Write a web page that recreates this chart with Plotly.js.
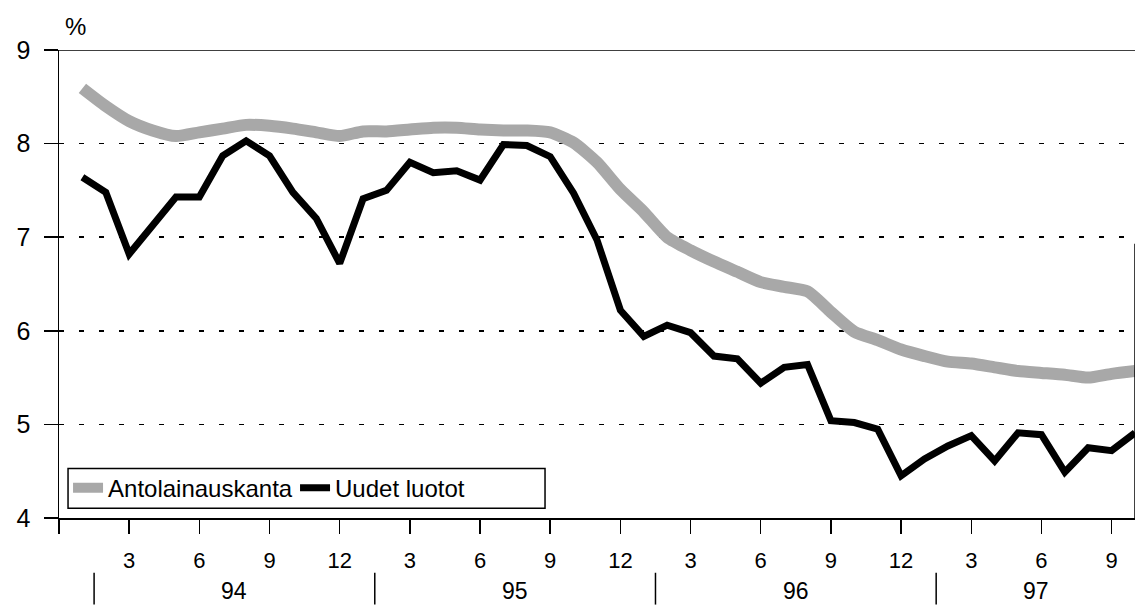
<!DOCTYPE html>
<html>
<head>
<meta charset="utf-8">
<script src="https://cdn.plot.ly/plotly-3.0.1.min.js"></script>
<style>
html, body { margin: 0; padding: 0; background: #ffffff; }
#chart { width: 1136px; height: 606px; }
</style>
</head>
<body>
<div id="chart"></div>
<script>
// ---- data ----
const startYear = 1994;
const monthCount = 46; // Jan 1994 .. Oct 1997
const monthIndex = Array.from({length: monthCount}, (_, i) => i + 1);

const antolainauskanta = [8.59, 8.40, 8.24, 8.14, 8.08, 8.12, 8.16, 8.20, 8.19, 8.16, 8.12, 8.08, 8.13, 8.13, 8.15, 8.17, 8.17, 8.15, 8.14, 8.14, 8.12, 8.01, 7.80, 7.51,
  7.27, 7.00, 6.86, 6.74, 6.63, 6.52, 6.47, 6.42, 6.20, 5.99, 5.90, 5.80, 5.73, 5.67, 5.65, 5.61, 5.57, 5.55, 5.53, 5.50, 5.54, 5.57];

const uudetLuotot = [7.64, 7.48, 6.82, 7.12, 7.43, 7.43, 7.87, 8.03, 7.87, 7.48, 7.20, 6.72, 7.41, 7.50, 7.80, 7.69, 7.71, 7.61, 7.99, 7.98, 7.86, 7.47, 6.97, 6.22,
  5.94, 6.06, 5.98, 5.73, 5.70, 5.44, 5.61, 5.64, 5.04, 5.02, 4.95, 4.45, 4.63, 4.77, 4.88, 4.61, 4.91, 4.89, 4.49, 4.75, 4.72, 4.91];

const seriesNames = ['Antolainauskanta', 'Uudet luotot'];
const monthTickLabels = ['3', '6', '9', '12'];
const yearLabels = ['94', '95', '96', '97'];
const yTicks = [4, 5, 6, 7, 8, 9];

// ---- ticks built from the labels ----
const tickVals = [0];
const tickText = [''];
for (let y = 0; y < yearLabels.length; y++) {
  monthTickLabels.forEach(m => {
    const v = y * 12 + Number(m);
    if (v <= monthCount) { tickVals.push(v); tickText.push(m); }
  });
}

const FONT = 'Liberation Sans, Arial, Helvetica, sans-serif';

const traces = [
  {
    x: monthIndex, y: antolainauskanta, name: seriesNames[0],
    type: 'scatter', mode: 'lines',
    line: {color: '#a8a8a8', width: 12, shape: 'spline', smoothing: 0.6}
  },
  {
    x: monthIndex, y: uudetLuotot, name: seriesNames[1],
    type: 'scatter', mode: 'lines',
    line: {color: '#000000', width: 7, shape: 'linear'}
  }
];

// frame lines, legend box, year separators and labels
const shapes = [
  {type: 'line', xref: 'paper', yref: 'y', x0: -0.013, x1: 1, y0: 9, y1: 9, line: {color: '#000', width: 1.5}},
  {type: 'line', xref: 'x', yref: 'y', x0: monthCount, x1: monthCount, y0: 4, y1: 6.93, line: {color: '#000', width: 1.5}},
  {type: 'rect', xref: 'paper', yref: 'paper', x0: 0.0084, x1: 0.4517, y0: 0.021, y1: 0.106,
   line: {color: '#000', width: 1.5}, fillcolor: 'rgba(0,0,0,0)', layer: 'above'}
];
const annotations = [
  {text: '%', xref: 'paper', yref: 'paper', x: 0.015, y: 1.05, xanchor: 'center', yanchor: 'middle', showarrow: false,
   font: {family: FONT, size: 24, color: '#000'}}
];
yearLabels.forEach((lab, i) => {
  const sep = i * 12 + 1.5;
  shapes.push({type: 'line', xref: 'x', yref: 'paper', x0: sep, x1: sep, y0: -0.117, y1: -0.185, line: {color: '#000', width: 1.5}});
  const end = Math.min(sep + 12, monthCount);
  annotations.push({text: lab, xref: 'x', yref: 'paper', x: (sep + end) / 2, y: -0.157, xanchor: 'center', yanchor: 'middle',
    showarrow: false, font: {family: FONT, size: 23, color: '#000'}});
});

const layout = {
  width: 1136, height: 606,
  margin: {l: 59, r: 1, t: 50, b: 88},
  paper_bgcolor: '#ffffff', plot_bgcolor: '#ffffff',
  font: {family: FONT, color: '#000'},
  showlegend: true,
  legend: {
    orientation: 'h', x: 0.0084, y: 0.064, xanchor: 'left', yanchor: 'middle',
    bgcolor: 'rgba(0,0,0,0)', borderwidth: 0,
    font: {family: FONT, size: 24, color: '#000'},
    entrywidth: 182, entrywidthmode: 'pixels', itemwidth: 30,
    tracegroupgap: 0
  },
  xaxis: {
    range: [0, monthCount], tickmode: 'array', tickvals: tickVals, ticktext: tickText,
    showgrid: false, zeroline: false, showline: true, linecolor: '#000', linewidth: 1.5,
    ticks: 'outside', ticklen: 14, tickwidth: 1.5, tickcolor: '#000',
    tickfont: {family: FONT, size: 22, color: '#000'}, ticklabelstandoff: 8
  },
  yaxis: {
    range: [4, 9], tickmode: 'array', tickvals: yTicks, ticktext: yTicks.map(String),
    showgrid: true, gridcolor: '#000', gridwidth: 1.5, griddash: '5px,15px',
    zeroline: false, showline: true, linecolor: '#000', linewidth: 1.5,
    ticks: 'outside', ticklen: 14, tickwidth: 1.5, tickcolor: '#000',
    tickfont: {family: FONT, size: 25, color: '#000'}, ticklabelstandoff: 8
  },
  shapes: shapes,
  annotations: annotations
};

Plotly.newPlot('chart', traces, layout, {displayModeBar: false, staticPlot: true});
</script>
</body>
</html>
